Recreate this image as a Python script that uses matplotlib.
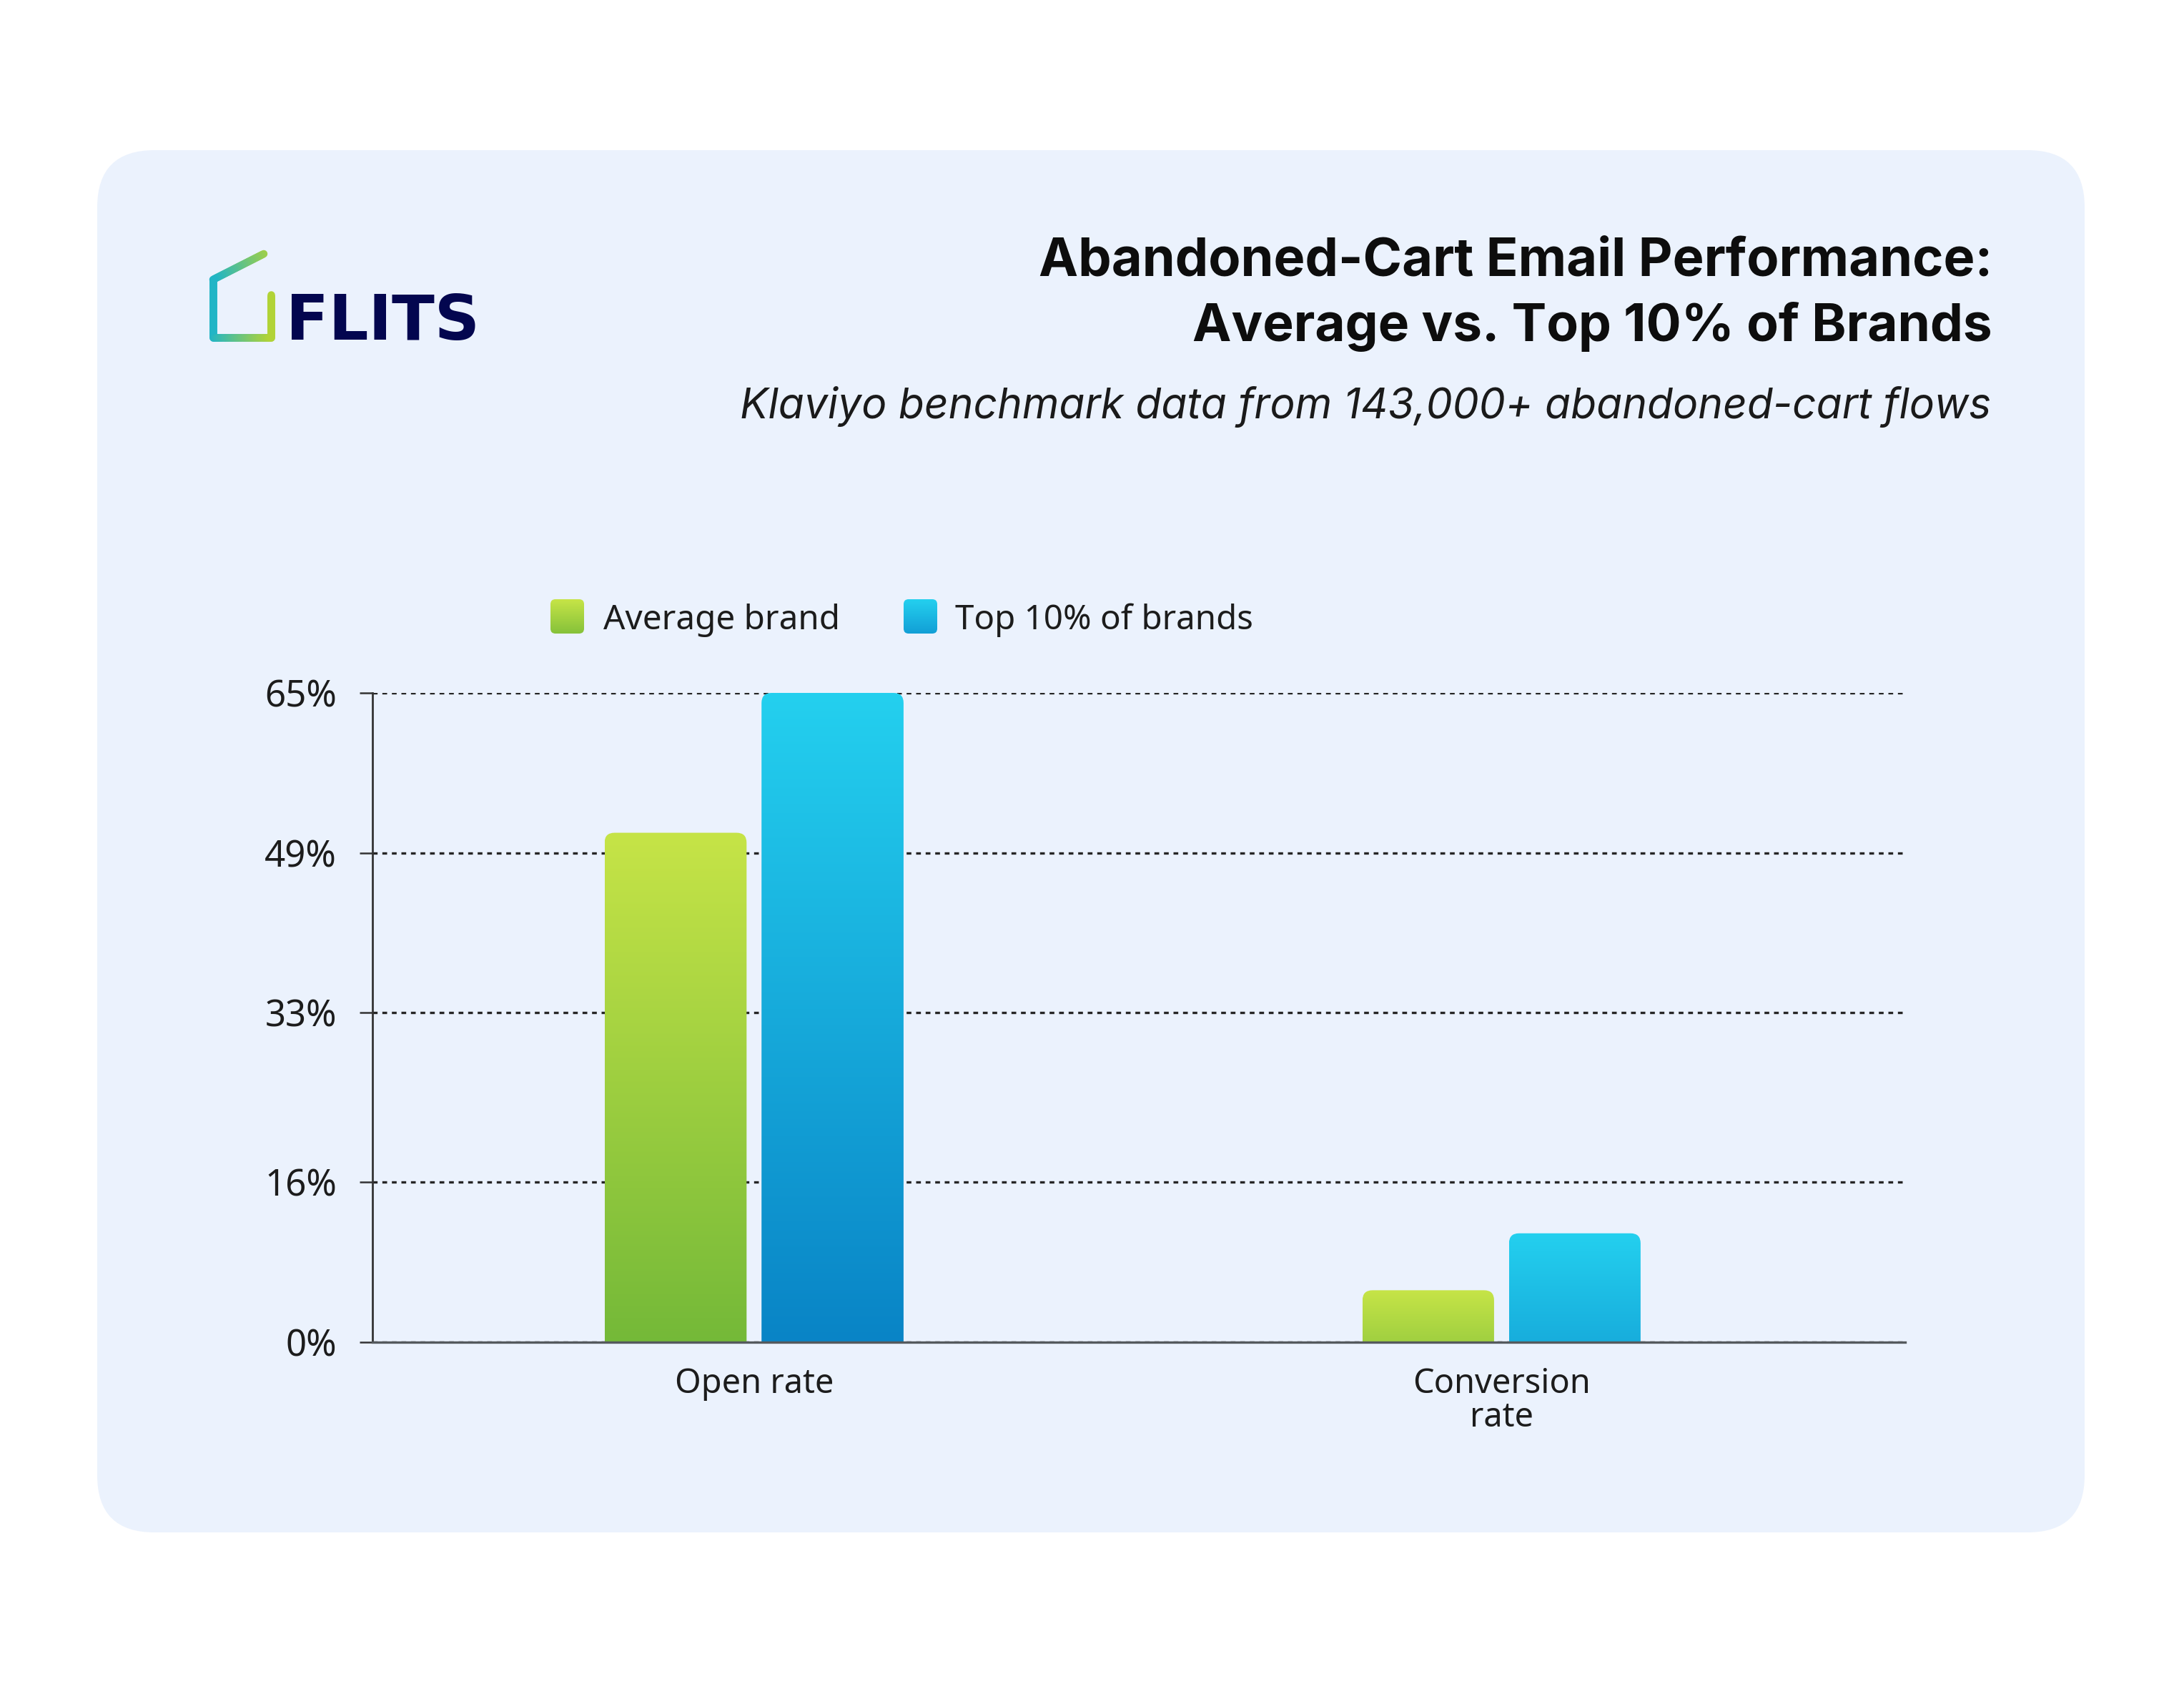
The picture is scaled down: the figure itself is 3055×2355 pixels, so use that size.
import numpy as np
import matplotlib
matplotlib.use("Agg")
import matplotlib.pyplot as plt
from matplotlib.patches import FancyBboxPatch
from matplotlib.collections import LineCollection
from matplotlib.colors import to_rgb
from matplotlib import font_manager as fm

# ---------------- data ----------------
categories = ["Open rate", "Conversion\nrate"]
series_names = ["Average brand", "Top 10% of brands"]
average_brand = [51.0, 5.2]
top_10_pct = [65.0, 10.9]
y_ticks = [0, 16, 33, 49, 65]
y_tick_labels = ["0%", "16%", "33%", "49%", "65%"]
title_line1 = "Abandoned-Cart Email Performance:"
title_line2 = "Average vs. Top 10% of Brands"
subtitle = "Klaviyo benchmark data from 143,000+ abandoned-cart flows"
logo_text = "FLITS"

# ---------------- styles ----------------
GREEN_TOP, GREEN_BOT = "#C6E447", "#67B236"
BLUE_TOP, BLUE_BOT = "#24D0EF", "#0984C6"
CARD = "#EBF2FD"
TEXT = "#1c1c1c"
BAR_WIDTHS = [0.190, 0.176]   # per category group (style)
BAR_GAP = 0.020


def pick(families, style="normal", bold=False):
    names = {}
    for f in fm.fontManager.ttflist:
        w = f.weight if isinstance(f.weight, int) else (700 if "bold" in str(f.weight) else 400)
        names.setdefault(f.name, []).append((f.style, w))
    for fam in families:
        for st, w in names.get(fam, []):
            if st == style and ((w >= 600) == bold):
                return fam
    return families[-1]


title_font = pick(["Inter", "Roboto", "Lato", "DejaVu Sans"], bold=True)
sub_font = pick(["Inter", "Roboto", "Lato", "Open Sans", "DejaVu Sans"], style="italic")
body_font = "Noto Sans"
logo_font = "DejaVu Sans"

W, H = 3055, 2355
DPI = 100
fig = plt.figure(figsize=(W / DPI, H / DPI), dpi=DPI)
fig.patch.set_facecolor("white")
renderer = fig.canvas.get_renderer()


def fit_width(artist, target_px):
    """scale the font so the rendered text spans target_px pixels"""
    for _ in range(2):
        bb = artist.get_window_extent(renderer)
        artist.set_fontsize(artist.get_fontsize() * target_px / bb.width)
    return artist.get_fontsize()


# ---------------- background card & decorations (pixel coords) ----------------
bg = fig.add_axes([0, 0, 1, 1], zorder=0)
bg.set_xlim(0, W)
bg.set_ylim(H, 0)
bg.axis("off")
bg.add_patch(FancyBboxPatch((136, 210), 2780, 1933,
                            boxstyle="round,pad=0,rounding_size=80",
                            fc=CARD, ec="none"))

# logo mark: gradient house outline
pts = np.array([(369, 355), (298, 391), (298, 472), (379, 472), (379, 412)], float)
segs, cols = [], []
c0, c1 = np.array(to_rgb("#1CB4CB")), np.array(to_rgb("#B6D432"))
for a, b in zip(pts[:-1], pts[1:]):
    for t0, t1 in zip(np.linspace(0, 1, 40)[:-1], np.linspace(0, 1, 40)[1:]):
        p0 = a + (b - a) * t0
        p1 = a + (b - a) * t1
        segs.append([p0, p1])
        f = np.clip(((p0[0] + p1[0]) / 2 - 295) / (382 - 295), 0, 1)
        cols.append(c0 * (1 - f) + c1 * f)
lc = LineCollection(segs, colors=cols, linewidths=7.6, capstyle="round", joinstyle="round")
bg.add_collection(lc)
t_logo = bg.text(400, 475, logo_text, fontsize=64, fontweight="bold", family=logo_font,
                 color="#03064F", ha="left", va="baseline")
fit_width(t_logo, 271)

# titles
t1 = bg.text(2787, 385, title_line1, fontsize=53, fontweight="bold", family=title_font,
             color="#0d0d0d", ha="right", va="baseline")
t2 = bg.text(2787, 477, title_line2, fontsize=53, fontweight="bold", family=title_font,
             color="#0d0d0d", ha="right", va="baseline")
s1 = fit_width(t1, 1341)
s2 = fit_width(t2, 1112)
ts = (s1 + s2) / 2
t1.set_fontsize(ts * 0.5 + s1 * 0.5)
t2.set_fontsize(ts * 0.5 + s2 * 0.5)
t_sub = bg.text(2785, 585, subtitle, fontsize=42.4, style="italic", family=sub_font,
                color="#1a1a1a", ha="right", va="baseline")
fit_width(t_sub, 1750)


def gradient_square(x0, y0, w, h, top, bot):
    n = 64
    t = np.linspace(0, 1, n)[:, None]
    img = (1 - t) * np.array(to_rgb(top)) + t * np.array(to_rgb(bot))
    im = bg.imshow(img[:, None, :], extent=(x0, x0 + w, y0 + h, y0), origin="upper",
                   aspect="auto", interpolation="bilinear", zorder=2)
    clip = FancyBboxPatch((x0, y0), w, h, boxstyle="round,pad=0,rounding_size=7",
                          fc="none", ec="none", transform=bg.transData)
    bg.add_patch(clip)
    im.set_clip_path(clip)


# legend
gradient_square(770, 838, 47, 48, GREEN_TOP, "#86C23A")
l1 = bg.text(844, 880, series_names[0], fontsize=34.5, family=body_font, color=TEXT,
             ha="left", va="baseline")
gradient_square(1264, 838, 47, 48, BLUE_TOP, "#129FD6")
l2 = bg.text(1336, 880, series_names[1], fontsize=34.5, family=body_font, color=TEXT,
             ha="left", va="baseline")
fit_width(l1, 331)
fit_width(l2, 417)
bg.set_xlim(0, W)
bg.set_ylim(H, 0)

# ---------------- chart ----------------
ax_l, ax_r, ax_t, ax_b = 521, 2665, 969, 1877
ax = fig.add_axes([ax_l / W, 1 - ax_b / H, (ax_r - ax_l) / W, (ax_b - ax_t) / H], zorder=1)
ax.patch.set_alpha(0)
XLIM = (-0.5105, 1.540)
YLIM = (0, 65)
px_x = (ax_r - ax_l) / (XLIM[1] - XLIM[0])
px_y = (ax_b - ax_t) / (YLIM[1] - YLIM[0])

x = np.arange(len(categories))
widths = np.array(BAR_WIDTHS)
offsets = [-(widths / 2 + BAR_GAP / 2), (widths / 2 + BAR_GAP / 2)]
series = [average_brand, top_10_pct]
grads = [(GREEN_TOP, GREEN_BOT), (BLUE_TOP, BLUE_BOT)]


def gradient_bar(rect, top, bot, radius_px=14):
    x0, y0 = rect.get_x(), rect.get_y()
    w, h = rect.get_width(), rect.get_height()
    frac = 0.35 + 0.65 * h / YLIM[1]
    topc = np.array(to_rgb(top))
    botc = topc + (np.array(to_rgb(bot)) - topc) * frac
    n = 256
    t = np.linspace(0, 1, n)[:, None]
    img = (1 - t) * botc + t * topc
    im = ax.imshow(img[:, None, :], extent=(x0, x0 + w, y0, y0 + h), origin="lower",
                   aspect="auto", interpolation="bilinear", zorder=3)
    rx = radius_px / px_x
    ry = radius_px / px_y
    clip = FancyBboxPatch((x0, y0 - 3 * ry), w, h + 3 * ry,
                          boxstyle=f"round,pad=0,rounding_size={rx}",
                          mutation_aspect=ry / rx, fc="none", ec="none",
                          transform=ax.transData)
    ax.add_patch(clip)
    im.set_clip_path(clip)


for vals, off, (gt, gb), name in zip(series, offsets, grads, series_names):
    bars = ax.bar(x + off, vals, widths, color="none", edgecolor="none", label=name, zorder=3)
    for r in bars:
        gradient_bar(r, gt, gb)

ax.set_xlim(*XLIM)
ax.set_ylim(*YLIM)
ax.set_yticks(y_ticks)
ax.set_yticklabels(y_tick_labels, fontsize=36, family=body_font, color=TEXT)
ax.set_xticks(x)
ax.set_xticklabels(categories, fontsize=34.5, family=body_font, color=TEXT, linespacing=1.0)
ax.tick_params(axis="y", length=13, width=1.8, color="#333333", pad=23)
ax.tick_params(axis="x", length=0, pad=25)
ax.yaxis.grid(True, linestyle=(0, (2.0, 2.0)), color="#262626", linewidth=2.4)
ax.set_axisbelow(True)
for s in ["top", "right"]:
    ax.spines[s].set_visible(False)
ax.spines["left"].set_color("#333333")
ax.spines["left"].set_linewidth(2.0)
ax.spines["bottom"].set_color("#555a5e")
ax.spines["bottom"].set_linewidth(2.4)
ax.spines["bottom"].set_zorder(4)

# fit tick label sizes to the reference widths
fig.canvas.draw()
ylab = ax.get_yticklabels()
bb = ylab[-1].get_window_extent(renderer)
ysize = ylab[-1].get_fontsize() * 101 / bb.width
for lab in ylab:
    lab.set_fontsize(ysize)
xlab = ax.get_xticklabels()
bb = xlab[0].get_window_extent(renderer)
xsize = xlab[0].get_fontsize() * 222 / bb.width
for lab in xlab:
    lab.set_fontsize(xsize)

fig.savefig("out.png", dpi=DPI, facecolor="white")
